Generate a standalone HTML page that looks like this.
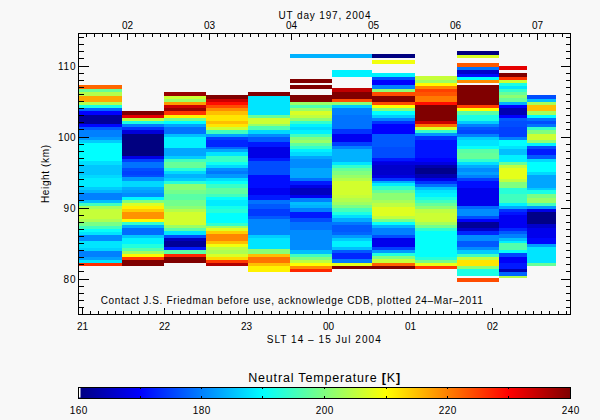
<!DOCTYPE html><html><head><meta charset="utf-8"><title>plot</title>
<style>html,body{margin:0;padding:0;background:#f8f8f8;}svg{display:block;font-family:"Liberation Sans",sans-serif;}</style></head><body>
<svg width="600" height="420" viewBox="0 0 600 420">
<rect x="0" y="0" width="600" height="420" fill="#f8f8f8"/>
<g shape-rendering="crispEdges">
<rect x="78.5" y="84.9" width="43.7" height="3.9" fill="#ff6600"/>
<rect x="78.5" y="88.8" width="43.7" height="3.3" fill="#66ff99"/>
<rect x="78.5" y="92.1" width="43.7" height="3.7" fill="#b3ff4c"/>
<rect x="78.5" y="95.8" width="43.7" height="6.0" fill="#ffa600"/>
<rect x="78.5" y="101.8" width="43.7" height="2.9" fill="#b3ff4c"/>
<rect x="78.5" y="104.7" width="43.7" height="3.2" fill="#1affe5"/>
<rect x="78.5" y="107.9" width="43.7" height="3.0" fill="#0066ff"/>
<rect x="78.5" y="110.9" width="43.7" height="3.9" fill="#0000ff"/>
<rect x="78.5" y="114.8" width="43.7" height="9.0" fill="#000099"/>
<rect x="78.5" y="123.8" width="43.7" height="3.4" fill="#0006ff"/>
<rect x="78.5" y="127.2" width="43.7" height="2.8" fill="#0059ff"/>
<rect x="78.5" y="130.0" width="43.7" height="6.7" fill="#0080ff"/>
<rect x="78.5" y="136.7" width="43.7" height="3.0" fill="#0099ff"/>
<rect x="78.5" y="139.7" width="43.7" height="3.0" fill="#00ccff"/>
<rect x="78.5" y="142.7" width="43.7" height="18.6" fill="#00ffff"/>
<rect x="78.5" y="161.3" width="43.7" height="3.4" fill="#00dfff"/>
<rect x="78.5" y="164.7" width="43.7" height="10.0" fill="#00c6ff"/>
<rect x="78.5" y="174.7" width="43.7" height="3.3" fill="#00d9ff"/>
<rect x="78.5" y="178.0" width="43.7" height="8.7" fill="#00ecff"/>
<rect x="78.5" y="186.7" width="43.7" height="3.0" fill="#00ccff"/>
<rect x="78.5" y="189.7" width="43.7" height="3.6" fill="#00b2ff"/>
<rect x="78.5" y="193.3" width="43.7" height="6.4" fill="#0080ff"/>
<rect x="78.5" y="199.7" width="43.7" height="3.1" fill="#00bfff"/>
<rect x="78.5" y="202.8" width="43.7" height="3.0" fill="#40ffbf"/>
<rect x="78.5" y="205.8" width="43.7" height="3.4" fill="#a6ff59"/>
<rect x="78.5" y="209.2" width="43.7" height="10.0" fill="#c6ff39"/>
<rect x="78.5" y="219.2" width="43.7" height="3.1" fill="#acff53"/>
<rect x="78.5" y="222.3" width="43.7" height="3.2" fill="#79ff86"/>
<rect x="78.5" y="225.5" width="43.7" height="3.2" fill="#40ffbf"/>
<rect x="78.5" y="228.7" width="43.7" height="3.3" fill="#06fff9"/>
<rect x="78.5" y="232.0" width="43.7" height="3.0" fill="#00e5ff"/>
<rect x="78.5" y="235.0" width="43.7" height="5.8" fill="#008cff"/>
<rect x="78.5" y="240.8" width="43.7" height="6.7" fill="#00e5ff"/>
<rect x="78.5" y="247.5" width="43.7" height="3.0" fill="#00d2ff"/>
<rect x="78.5" y="250.5" width="43.7" height="6.5" fill="#0080ff"/>
<rect x="78.5" y="257.0" width="43.7" height="3.0" fill="#009fff"/>
<rect x="78.5" y="260.0" width="43.7" height="3.0" fill="#00e5ff"/>
<rect x="78.5" y="263.0" width="43.7" height="2.8" fill="#ff2d00"/>
<rect x="122.2" y="110.9" width="41.8" height="3.9" fill="#800000"/>
<rect x="122.2" y="114.8" width="41.8" height="2.9" fill="#e50000"/>
<rect x="122.2" y="117.7" width="41.8" height="3.0" fill="#bfff40"/>
<rect x="122.2" y="120.7" width="41.8" height="3.2" fill="#1affe5"/>
<rect x="122.2" y="123.9" width="41.8" height="3.3" fill="#0080ff"/>
<rect x="122.2" y="127.2" width="41.8" height="2.8" fill="#0033ff"/>
<rect x="122.2" y="130.0" width="41.8" height="3.9" fill="#0000d9"/>
<rect x="122.2" y="133.9" width="41.8" height="21.9" fill="#000080"/>
<rect x="122.2" y="155.8" width="41.8" height="2.9" fill="#0000e6"/>
<rect x="122.2" y="158.7" width="41.8" height="3.3" fill="#0040ff"/>
<rect x="122.2" y="162.0" width="41.8" height="5.8" fill="#0073ff"/>
<rect x="122.2" y="167.8" width="41.8" height="3.2" fill="#004dff"/>
<rect x="122.2" y="171.0" width="41.8" height="3.5" fill="#0040ff"/>
<rect x="122.2" y="174.5" width="41.8" height="2.5" fill="#004dff"/>
<rect x="122.2" y="177.0" width="41.8" height="4.3" fill="#0099ff"/>
<rect x="122.2" y="181.3" width="41.8" height="5.4" fill="#00d9ff"/>
<rect x="122.2" y="186.7" width="41.8" height="3.3" fill="#00acff"/>
<rect x="122.2" y="190.0" width="41.8" height="3.3" fill="#009fff"/>
<rect x="122.2" y="193.3" width="41.8" height="3.4" fill="#008cff"/>
<rect x="122.2" y="196.7" width="41.8" height="3.3" fill="#00f9ff"/>
<rect x="122.2" y="200.0" width="41.8" height="2.8" fill="#80ff80"/>
<rect x="122.2" y="202.8" width="41.8" height="3.0" fill="#d9ff26"/>
<rect x="122.2" y="205.8" width="41.8" height="3.4" fill="#fff200"/>
<rect x="122.2" y="209.2" width="41.8" height="2.8" fill="#ffcc00"/>
<rect x="122.2" y="212.0" width="41.8" height="6.7" fill="#ff9300"/>
<rect x="122.2" y="218.7" width="41.8" height="3.0" fill="#fff900"/>
<rect x="122.2" y="221.7" width="41.8" height="3.3" fill="#33ffcc"/>
<rect x="122.2" y="225.0" width="41.8" height="3.0" fill="#00acff"/>
<rect x="122.2" y="228.0" width="41.8" height="7.0" fill="#006cff"/>
<rect x="122.2" y="235.0" width="41.8" height="3.0" fill="#00c6ff"/>
<rect x="122.2" y="238.0" width="41.8" height="6.2" fill="#00f2ff"/>
<rect x="122.2" y="244.2" width="41.8" height="3.3" fill="#20ffdf"/>
<rect x="122.2" y="247.5" width="41.8" height="3.0" fill="#53ffac"/>
<rect x="122.2" y="250.5" width="41.8" height="3.7" fill="#9fff60"/>
<rect x="122.2" y="254.2" width="41.8" height="2.8" fill="#fff900"/>
<rect x="122.2" y="257.0" width="41.8" height="3.0" fill="#ff3900"/>
<rect x="122.2" y="260.0" width="41.8" height="5.8" fill="#800000"/>
<rect x="164.0" y="92.1" width="42.3" height="3.7" fill="#990000"/>
<rect x="164.0" y="95.8" width="42.3" height="3.2" fill="#ccff33"/>
<rect x="164.0" y="99.0" width="42.3" height="2.8" fill="#99ff66"/>
<rect x="164.0" y="101.8" width="42.3" height="3.2" fill="#ff9900"/>
<rect x="164.0" y="105.0" width="42.3" height="3.0" fill="#cc0000"/>
<rect x="164.0" y="108.0" width="42.3" height="2.9" fill="#990000"/>
<rect x="164.0" y="110.9" width="42.3" height="3.9" fill="#ff3300"/>
<rect x="164.0" y="114.8" width="42.3" height="3.2" fill="#fff200"/>
<rect x="164.0" y="118.0" width="42.3" height="2.9" fill="#73ff8c"/>
<rect x="164.0" y="120.9" width="42.3" height="3.0" fill="#00ffff"/>
<rect x="164.0" y="123.9" width="42.3" height="3.5" fill="#00a6ff"/>
<rect x="164.0" y="127.4" width="42.3" height="6.5" fill="#0073ff"/>
<rect x="164.0" y="133.9" width="42.3" height="3.1" fill="#00bfff"/>
<rect x="164.0" y="137.0" width="42.3" height="11.4" fill="#00f2ff"/>
<rect x="164.0" y="148.4" width="42.3" height="7.1" fill="#00a6ff"/>
<rect x="164.0" y="155.5" width="42.3" height="3.2" fill="#00ccff"/>
<rect x="164.0" y="158.7" width="42.3" height="3.3" fill="#40ffbf"/>
<rect x="164.0" y="162.0" width="42.3" height="5.5" fill="#66ff99"/>
<rect x="164.0" y="167.5" width="42.3" height="3.3" fill="#26ffd9"/>
<rect x="164.0" y="170.8" width="42.3" height="3.4" fill="#00d9ff"/>
<rect x="164.0" y="174.2" width="42.3" height="3.3" fill="#00b2ff"/>
<rect x="164.0" y="177.5" width="42.3" height="3.3" fill="#00ccff"/>
<rect x="164.0" y="180.8" width="42.3" height="3.4" fill="#26ffd9"/>
<rect x="164.0" y="184.2" width="42.3" height="5.8" fill="#8cff73"/>
<rect x="164.0" y="190.0" width="42.3" height="3.7" fill="#73ff8c"/>
<rect x="164.0" y="193.7" width="42.3" height="6.3" fill="#59ffa6"/>
<rect x="164.0" y="200.0" width="42.3" height="5.8" fill="#73ff8c"/>
<rect x="164.0" y="205.8" width="42.3" height="3.4" fill="#8cff73"/>
<rect x="164.0" y="209.2" width="42.3" height="2.8" fill="#b3ff4c"/>
<rect x="164.0" y="212.0" width="42.3" height="13.0" fill="#d2ff2d"/>
<rect x="164.0" y="225.0" width="42.3" height="3.0" fill="#99ff66"/>
<rect x="164.0" y="228.0" width="42.3" height="2.8" fill="#59ffa6"/>
<rect x="164.0" y="230.8" width="42.3" height="4.2" fill="#00e5ff"/>
<rect x="164.0" y="235.0" width="42.3" height="2.8" fill="#004dff"/>
<rect x="164.0" y="237.8" width="42.3" height="2.7" fill="#0000bf"/>
<rect x="164.0" y="240.5" width="42.3" height="6.2" fill="#000099"/>
<rect x="164.0" y="246.7" width="42.3" height="3.3" fill="#0019ff"/>
<rect x="164.0" y="250.0" width="42.3" height="3.7" fill="#59ffa6"/>
<rect x="164.0" y="253.7" width="42.3" height="3.3" fill="#ff2600"/>
<rect x="164.0" y="257.0" width="42.3" height="5.5" fill="#800000"/>
<rect x="206.3" y="95.2" width="42.1" height="3.7" fill="#800000"/>
<rect x="206.3" y="98.9" width="42.1" height="3.3" fill="#cc0000"/>
<rect x="206.3" y="102.2" width="42.1" height="2.6" fill="#ff0d00"/>
<rect x="206.3" y="104.8" width="42.1" height="3.2" fill="#ff4c00"/>
<rect x="206.3" y="108.0" width="42.1" height="3.3" fill="#ff8c00"/>
<rect x="206.3" y="111.3" width="42.1" height="3.4" fill="#ffbf00"/>
<rect x="206.3" y="114.7" width="42.1" height="5.9" fill="#ffe500"/>
<rect x="206.3" y="120.6" width="42.1" height="3.7" fill="#ffbf00"/>
<rect x="206.3" y="124.3" width="42.1" height="2.8" fill="#ffe500"/>
<rect x="206.3" y="127.1" width="42.1" height="2.8" fill="#ccff33"/>
<rect x="206.3" y="129.9" width="42.1" height="3.7" fill="#40ffbf"/>
<rect x="206.3" y="133.6" width="42.1" height="3.2" fill="#00a6ff"/>
<rect x="206.3" y="136.8" width="42.1" height="3.4" fill="#0040ff"/>
<rect x="206.3" y="140.2" width="42.1" height="6.5" fill="#0026ff"/>
<rect x="206.3" y="146.7" width="42.1" height="2.6" fill="#0066ff"/>
<rect x="206.3" y="149.3" width="42.1" height="2.4" fill="#00a6ff"/>
<rect x="206.3" y="151.7" width="42.1" height="4.1" fill="#00e5ff"/>
<rect x="206.3" y="155.8" width="42.1" height="6.2" fill="#39ffc6"/>
<rect x="206.3" y="162.0" width="42.1" height="3.0" fill="#0dfff2"/>
<rect x="206.3" y="165.0" width="42.1" height="3.0" fill="#00d9ff"/>
<rect x="206.3" y="168.0" width="42.1" height="2.8" fill="#008cff"/>
<rect x="206.3" y="170.8" width="42.1" height="3.4" fill="#0079ff"/>
<rect x="206.3" y="174.2" width="42.1" height="3.3" fill="#0099ff"/>
<rect x="206.3" y="177.5" width="42.1" height="3.3" fill="#00dfff"/>
<rect x="206.3" y="180.8" width="42.1" height="3.4" fill="#06fff9"/>
<rect x="206.3" y="184.2" width="42.1" height="3.3" fill="#39ffc6"/>
<rect x="206.3" y="187.5" width="42.1" height="6.2" fill="#60ff9f"/>
<rect x="206.3" y="193.7" width="42.1" height="3.3" fill="#40ffbf"/>
<rect x="206.3" y="197.0" width="42.1" height="3.0" fill="#06fff9"/>
<rect x="206.3" y="200.0" width="42.1" height="5.8" fill="#00ecff"/>
<rect x="206.3" y="205.8" width="42.1" height="3.4" fill="#13ffec"/>
<rect x="206.3" y="209.2" width="42.1" height="4.1" fill="#26ffd9"/>
<rect x="206.3" y="213.3" width="42.1" height="10.0" fill="#00ffff"/>
<rect x="206.3" y="223.3" width="42.1" height="2.5" fill="#33ffcc"/>
<rect x="206.3" y="225.8" width="42.1" height="2.2" fill="#99ff66"/>
<rect x="206.3" y="228.0" width="42.1" height="2.8" fill="#dfff20"/>
<rect x="206.3" y="230.8" width="42.1" height="3.4" fill="#ffcc00"/>
<rect x="206.3" y="234.2" width="42.1" height="6.6" fill="#ff8600"/>
<rect x="206.3" y="240.8" width="42.1" height="3.4" fill="#ffbf00"/>
<rect x="206.3" y="244.2" width="42.1" height="2.8" fill="#f2ff0d"/>
<rect x="206.3" y="247.0" width="42.1" height="3.0" fill="#bfff40"/>
<rect x="206.3" y="250.0" width="42.1" height="3.7" fill="#acff53"/>
<rect x="206.3" y="253.7" width="42.1" height="3.3" fill="#d9ff26"/>
<rect x="206.3" y="257.0" width="42.1" height="3.0" fill="#ffd900"/>
<rect x="206.3" y="260.0" width="42.1" height="3.0" fill="#ff3900"/>
<rect x="206.3" y="263.0" width="42.1" height="2.8" fill="#b30000"/>
<rect x="248.4" y="92.0" width="41.6" height="3.5" fill="#800000"/>
<rect x="248.4" y="95.5" width="41.6" height="19.5" fill="#00e5ff"/>
<rect x="248.4" y="115.0" width="41.6" height="2.8" fill="#66ff99"/>
<rect x="248.4" y="117.8" width="41.6" height="6.0" fill="#ccff33"/>
<rect x="248.4" y="123.8" width="41.6" height="2.6" fill="#99ff66"/>
<rect x="248.4" y="126.4" width="41.6" height="3.5" fill="#4dffb2"/>
<rect x="248.4" y="129.9" width="41.6" height="3.7" fill="#00d9ff"/>
<rect x="248.4" y="133.6" width="41.6" height="3.3" fill="#008cff"/>
<rect x="248.4" y="136.9" width="41.6" height="5.4" fill="#0059ff"/>
<rect x="248.4" y="142.3" width="41.6" height="4.4" fill="#0019ff"/>
<rect x="248.4" y="146.7" width="41.6" height="10.8" fill="#0000e6"/>
<rect x="248.4" y="157.5" width="41.6" height="3.3" fill="#0019ff"/>
<rect x="248.4" y="160.8" width="41.6" height="7.5" fill="#004dff"/>
<rect x="248.4" y="168.3" width="41.6" height="6.5" fill="#004dff"/>
<rect x="248.4" y="174.8" width="41.6" height="13.0" fill="#000dff"/>
<rect x="248.4" y="187.8" width="41.6" height="7.6" fill="#0000f2"/>
<rect x="248.4" y="195.4" width="41.6" height="4.4" fill="#0019ff"/>
<rect x="248.4" y="199.8" width="41.6" height="4.5" fill="#0073ff"/>
<rect x="248.4" y="204.3" width="41.6" height="4.4" fill="#0059ff"/>
<rect x="248.4" y="208.7" width="41.6" height="7.3" fill="#0039ff"/>
<rect x="248.4" y="216.0" width="41.6" height="3.2" fill="#0059ff"/>
<rect x="248.4" y="219.2" width="41.6" height="15.8" fill="#0086ff"/>
<rect x="248.4" y="235.0" width="41.6" height="3.0" fill="#00ccff"/>
<rect x="248.4" y="238.0" width="41.6" height="11.3" fill="#00e5ff"/>
<rect x="248.4" y="249.3" width="41.6" height="4.4" fill="#8cff73"/>
<rect x="248.4" y="253.7" width="41.6" height="3.3" fill="#ffbf00"/>
<rect x="248.4" y="257.0" width="41.6" height="6.0" fill="#ff7300"/>
<rect x="248.4" y="263.0" width="41.6" height="2.8" fill="#ffbf00"/>
<rect x="248.4" y="265.8" width="41.6" height="6.1" fill="#fff200"/>
<rect x="290.0" y="53.8" width="42.3" height="4.0" fill="#00b2ff"/>
<rect x="290.0" y="79.0" width="42.3" height="3.8" fill="#800000"/>
<rect x="290.0" y="85.0" width="42.3" height="3.8" fill="#800000"/>
<rect x="290.0" y="94.8" width="42.3" height="7.2" fill="#800000"/>
<rect x="290.0" y="102.0" width="42.3" height="3.0" fill="#99ff66"/>
<rect x="290.0" y="105.0" width="42.3" height="2.8" fill="#4dffb2"/>
<rect x="290.0" y="107.8" width="42.3" height="3.2" fill="#99ff66"/>
<rect x="290.0" y="111.0" width="42.3" height="4.0" fill="#d9ff26"/>
<rect x="290.0" y="115.0" width="42.3" height="3.0" fill="#bfff40"/>
<rect x="290.0" y="118.0" width="42.3" height="3.2" fill="#8cff73"/>
<rect x="290.0" y="121.2" width="42.3" height="2.8" fill="#33ffcc"/>
<rect x="290.0" y="124.0" width="42.3" height="3.0" fill="#00f2ff"/>
<rect x="290.0" y="127.0" width="42.3" height="3.0" fill="#00d9ff"/>
<rect x="290.0" y="130.0" width="42.3" height="3.5" fill="#00f2ff"/>
<rect x="290.0" y="133.5" width="42.3" height="3.5" fill="#40ffbf"/>
<rect x="290.0" y="137.0" width="42.3" height="3.0" fill="#80ff80"/>
<rect x="290.0" y="140.0" width="42.3" height="3.2" fill="#99ff66"/>
<rect x="290.0" y="143.2" width="42.3" height="3.0" fill="#60ff9f"/>
<rect x="290.0" y="146.2" width="42.3" height="2.8" fill="#33ffcc"/>
<rect x="290.0" y="149.0" width="42.3" height="3.2" fill="#00f2ff"/>
<rect x="290.0" y="152.2" width="42.3" height="3.8" fill="#00d9ff"/>
<rect x="290.0" y="156.0" width="42.3" height="3.0" fill="#00a6ff"/>
<rect x="290.0" y="159.0" width="42.3" height="9.3" fill="#008cff"/>
<rect x="290.0" y="168.3" width="42.3" height="9.8" fill="#00a6ff"/>
<rect x="290.0" y="178.1" width="42.3" height="3.2" fill="#0073ff"/>
<rect x="290.0" y="181.3" width="42.3" height="3.3" fill="#0019ff"/>
<rect x="290.0" y="184.6" width="42.3" height="3.2" fill="#0000e6"/>
<rect x="290.0" y="187.8" width="42.3" height="7.0" fill="#0000bf"/>
<rect x="290.0" y="194.8" width="42.3" height="3.2" fill="#0000f2"/>
<rect x="290.0" y="198.0" width="42.3" height="3.7" fill="#0080ff"/>
<rect x="290.0" y="201.7" width="42.3" height="3.3" fill="#00bfff"/>
<rect x="290.0" y="205.0" width="42.3" height="3.3" fill="#00b2ff"/>
<rect x="290.0" y="208.3" width="42.3" height="3.5" fill="#0080ff"/>
<rect x="290.0" y="211.8" width="42.3" height="6.6" fill="#0019ff"/>
<rect x="290.0" y="218.4" width="42.3" height="3.3" fill="#004dff"/>
<rect x="290.0" y="221.7" width="42.3" height="8.6" fill="#0073ff"/>
<rect x="290.0" y="230.3" width="42.3" height="19.5" fill="#008cff"/>
<rect x="290.0" y="249.8" width="42.3" height="3.9" fill="#00bfff"/>
<rect x="290.0" y="253.7" width="42.3" height="3.7" fill="#40ffbf"/>
<rect x="290.0" y="257.4" width="42.3" height="2.8" fill="#80ff80"/>
<rect x="290.0" y="260.2" width="42.3" height="2.6" fill="#bfff40"/>
<rect x="290.0" y="262.8" width="42.3" height="2.9" fill="#ffff00"/>
<rect x="290.0" y="265.7" width="42.3" height="3.2" fill="#ff8c00"/>
<rect x="290.0" y="268.9" width="42.3" height="3.0" fill="#ff2600"/>
<rect x="332.3" y="53.8" width="39.5" height="4.0" fill="#00b2ff"/>
<rect x="332.3" y="70.0" width="39.5" height="6.8" fill="#00f2ff"/>
<rect x="332.3" y="88.0" width="39.5" height="4.0" fill="#bf0000"/>
<rect x="332.3" y="92.0" width="39.5" height="6.9" fill="#800000"/>
<rect x="332.3" y="98.9" width="39.5" height="3.1" fill="#ff4c00"/>
<rect x="332.3" y="102.0" width="39.5" height="2.8" fill="#8cff73"/>
<rect x="332.3" y="104.8" width="39.5" height="3.2" fill="#00ccff"/>
<rect x="332.3" y="108.0" width="39.5" height="7.0" fill="#0080ff"/>
<rect x="332.3" y="115.0" width="39.5" height="14.3" fill="#0073ff"/>
<rect x="332.3" y="129.3" width="39.5" height="4.4" fill="#0033ff"/>
<rect x="332.3" y="133.7" width="39.5" height="8.6" fill="#0000f2"/>
<rect x="332.3" y="142.3" width="39.5" height="3.3" fill="#0040ff"/>
<rect x="332.3" y="145.6" width="39.5" height="3.2" fill="#0080ff"/>
<rect x="332.3" y="148.8" width="39.5" height="13.2" fill="#00b2ff"/>
<rect x="332.3" y="162.0" width="39.5" height="3.0" fill="#00e5ff"/>
<rect x="332.3" y="165.0" width="39.5" height="3.0" fill="#33ffcc"/>
<rect x="332.3" y="168.0" width="39.5" height="3.3" fill="#66ff99"/>
<rect x="332.3" y="171.3" width="39.5" height="3.4" fill="#80ff80"/>
<rect x="332.3" y="174.7" width="39.5" height="3.3" fill="#99ff66"/>
<rect x="332.3" y="178.0" width="39.5" height="3.3" fill="#b3ff4c"/>
<rect x="332.3" y="181.3" width="39.5" height="13.7" fill="#d2ff2d"/>
<rect x="332.3" y="195.0" width="39.5" height="3.3" fill="#c6ff39"/>
<rect x="332.3" y="198.3" width="39.5" height="3.4" fill="#b3ff4c"/>
<rect x="332.3" y="201.7" width="39.5" height="3.3" fill="#9fff60"/>
<rect x="332.3" y="205.0" width="39.5" height="3.3" fill="#79ff86"/>
<rect x="332.3" y="208.3" width="39.5" height="3.4" fill="#46ffb9"/>
<rect x="332.3" y="211.7" width="39.5" height="3.6" fill="#1affe5"/>
<rect x="332.3" y="215.3" width="39.5" height="3.0" fill="#00dfff"/>
<rect x="332.3" y="218.3" width="39.5" height="3.4" fill="#00acff"/>
<rect x="332.3" y="221.7" width="39.5" height="3.3" fill="#0079ff"/>
<rect x="332.3" y="225.0" width="39.5" height="6.7" fill="#0059ff"/>
<rect x="332.3" y="231.7" width="39.5" height="3.3" fill="#0066ff"/>
<rect x="332.3" y="235.0" width="39.5" height="2.8" fill="#0099ff"/>
<rect x="332.3" y="237.8" width="39.5" height="3.0" fill="#00ccff"/>
<rect x="332.3" y="240.8" width="39.5" height="5.9" fill="#00f2ff"/>
<rect x="332.3" y="246.7" width="39.5" height="3.0" fill="#00bfff"/>
<rect x="332.3" y="249.7" width="39.5" height="3.3" fill="#0059ff"/>
<rect x="332.3" y="253.0" width="39.5" height="6.2" fill="#0026ff"/>
<rect x="332.3" y="259.2" width="39.5" height="3.3" fill="#0079ff"/>
<rect x="332.3" y="262.5" width="39.5" height="3.3" fill="#e5ff1a"/>
<rect x="332.3" y="265.8" width="39.5" height="3.2" fill="#800000"/>
<rect x="371.8" y="53.8" width="43.2" height="4.0" fill="#000080"/>
<rect x="371.8" y="60.1" width="43.2" height="3.8" fill="#f2ff0d"/>
<rect x="371.8" y="73.0" width="43.2" height="3.8" fill="#00f2ff"/>
<rect x="371.8" y="76.8" width="43.2" height="3.2" fill="#004dff"/>
<rect x="371.8" y="80.0" width="43.2" height="5.4" fill="#0000ff"/>
<rect x="371.8" y="85.4" width="43.2" height="3.2" fill="#0080ff"/>
<rect x="371.8" y="88.6" width="43.2" height="3.4" fill="#8cff73"/>
<rect x="371.8" y="92.0" width="43.2" height="3.8" fill="#ff4c00"/>
<rect x="371.8" y="95.8" width="43.2" height="6.2" fill="#800000"/>
<rect x="371.8" y="102.0" width="43.2" height="2.8" fill="#ff4c00"/>
<rect x="371.8" y="104.8" width="43.2" height="3.2" fill="#ffff00"/>
<rect x="371.8" y="108.0" width="43.2" height="2.9" fill="#80ff80"/>
<rect x="371.8" y="110.9" width="43.2" height="3.6" fill="#00ffff"/>
<rect x="371.8" y="114.5" width="43.2" height="3.3" fill="#00ccff"/>
<rect x="371.8" y="117.8" width="43.2" height="3.2" fill="#0080ff"/>
<rect x="371.8" y="121.0" width="43.2" height="3.3" fill="#0033ff"/>
<rect x="371.8" y="124.3" width="43.2" height="9.4" fill="#0000ff"/>
<rect x="371.8" y="133.7" width="43.2" height="13.0" fill="#0059ff"/>
<rect x="371.8" y="146.7" width="43.2" height="10.8" fill="#004dff"/>
<rect x="371.8" y="157.5" width="43.2" height="3.3" fill="#0019ff"/>
<rect x="371.8" y="160.8" width="43.2" height="1.2" fill="#0000f2"/>
<rect x="371.8" y="162.0" width="43.2" height="3.0" fill="#0000df"/>
<rect x="371.8" y="165.0" width="43.2" height="9.7" fill="#0000cc"/>
<rect x="371.8" y="174.7" width="43.2" height="2.8" fill="#0000df"/>
<rect x="371.8" y="177.5" width="43.2" height="3.3" fill="#0033ff"/>
<rect x="371.8" y="180.8" width="43.2" height="2.5" fill="#00acff"/>
<rect x="371.8" y="183.3" width="43.2" height="3.0" fill="#00ecff"/>
<rect x="371.8" y="186.3" width="43.2" height="3.4" fill="#33ffcc"/>
<rect x="371.8" y="189.7" width="43.2" height="3.3" fill="#66ff99"/>
<rect x="371.8" y="193.0" width="43.2" height="7.0" fill="#8cff73"/>
<rect x="371.8" y="200.0" width="43.2" height="3.3" fill="#a6ff59"/>
<rect x="371.8" y="203.3" width="43.2" height="3.4" fill="#bfff40"/>
<rect x="371.8" y="206.7" width="43.2" height="9.1" fill="#dfff20"/>
<rect x="371.8" y="215.8" width="43.2" height="2.9" fill="#bfff40"/>
<rect x="371.8" y="218.7" width="43.2" height="3.0" fill="#79ff86"/>
<rect x="371.8" y="221.7" width="43.2" height="3.3" fill="#06fff9"/>
<rect x="371.8" y="225.0" width="43.2" height="3.0" fill="#00b2ff"/>
<rect x="371.8" y="228.0" width="43.2" height="6.7" fill="#0080ff"/>
<rect x="371.8" y="234.7" width="43.2" height="3.1" fill="#004dff"/>
<rect x="371.8" y="237.8" width="43.2" height="8.9" fill="#0000ec"/>
<rect x="371.8" y="246.7" width="43.2" height="3.0" fill="#0040ff"/>
<rect x="371.8" y="249.7" width="43.2" height="3.3" fill="#0099ff"/>
<rect x="371.8" y="253.0" width="43.2" height="2.8" fill="#20ffdf"/>
<rect x="371.8" y="255.8" width="43.2" height="3.4" fill="#80ff80"/>
<rect x="371.8" y="259.2" width="43.2" height="3.3" fill="#c6ff39"/>
<rect x="371.8" y="262.5" width="43.2" height="3.3" fill="#ff6000"/>
<rect x="371.8" y="265.8" width="43.2" height="3.2" fill="#800000"/>
<rect x="415.0" y="76.0" width="41.9" height="3.7" fill="#c6ff39"/>
<rect x="415.0" y="79.7" width="41.9" height="3.0" fill="#99ff66"/>
<rect x="415.0" y="82.7" width="41.9" height="3.3" fill="#fff900"/>
<rect x="415.0" y="86.0" width="41.9" height="2.8" fill="#ff8600"/>
<rect x="415.0" y="88.8" width="41.9" height="3.4" fill="#ff4000"/>
<rect x="415.0" y="92.2" width="41.9" height="3.3" fill="#ff5300"/>
<rect x="415.0" y="95.5" width="41.9" height="6.2" fill="#ff7900"/>
<rect x="415.0" y="101.7" width="41.9" height="3.3" fill="#ff0d00"/>
<rect x="415.0" y="105.0" width="41.9" height="15.8" fill="#800000"/>
<rect x="415.0" y="120.8" width="41.9" height="2.9" fill="#cc0000"/>
<rect x="415.0" y="123.7" width="41.9" height="3.0" fill="#ff6c00"/>
<rect x="415.0" y="126.7" width="41.9" height="3.3" fill="#dfff20"/>
<rect x="415.0" y="130.0" width="41.9" height="3.3" fill="#33ffcc"/>
<rect x="415.0" y="133.3" width="41.9" height="3.0" fill="#0099ff"/>
<rect x="415.0" y="136.3" width="41.9" height="3.4" fill="#0033ff"/>
<rect x="415.0" y="139.7" width="41.9" height="17.8" fill="#0013ff"/>
<rect x="415.0" y="157.5" width="41.9" height="4.2" fill="#0000ff"/>
<rect x="415.0" y="161.7" width="41.9" height="3.3" fill="#0000df"/>
<rect x="415.0" y="165.0" width="41.9" height="3.3" fill="#0000ac"/>
<rect x="415.0" y="168.3" width="41.9" height="5.9" fill="#00008c"/>
<rect x="415.0" y="174.2" width="41.9" height="3.3" fill="#0000b2"/>
<rect x="415.0" y="177.5" width="41.9" height="3.3" fill="#0000ec"/>
<rect x="415.0" y="180.8" width="41.9" height="2.9" fill="#0033ff"/>
<rect x="415.0" y="183.7" width="41.9" height="3.3" fill="#0073ff"/>
<rect x="415.0" y="187.0" width="41.9" height="3.0" fill="#00bfff"/>
<rect x="415.0" y="190.0" width="41.9" height="3.3" fill="#00e5ff"/>
<rect x="415.0" y="193.3" width="41.9" height="3.4" fill="#00f2ff"/>
<rect x="415.0" y="196.7" width="41.9" height="3.0" fill="#1affe5"/>
<rect x="415.0" y="199.7" width="41.9" height="3.3" fill="#40ffbf"/>
<rect x="415.0" y="203.0" width="41.9" height="3.3" fill="#66ff99"/>
<rect x="415.0" y="206.3" width="41.9" height="2.9" fill="#8cff73"/>
<rect x="415.0" y="209.2" width="41.9" height="3.3" fill="#bfff40"/>
<rect x="415.0" y="212.5" width="41.9" height="9.2" fill="#ccff33"/>
<rect x="415.0" y="221.7" width="41.9" height="3.3" fill="#a6ff59"/>
<rect x="415.0" y="225.0" width="41.9" height="3.0" fill="#73ff8c"/>
<rect x="415.0" y="228.0" width="41.9" height="2.8" fill="#2dffd2"/>
<rect x="415.0" y="230.8" width="41.9" height="25.9" fill="#04fffb"/>
<rect x="415.0" y="256.7" width="41.9" height="3.3" fill="#26ffd9"/>
<rect x="415.0" y="260.0" width="41.9" height="3.0" fill="#79ff86"/>
<rect x="415.0" y="263.0" width="41.9" height="2.8" fill="#ecff13"/>
<rect x="415.0" y="265.8" width="41.9" height="3.0" fill="#ff3900"/>
<rect x="456.9" y="51.0" width="42.3" height="3.8" fill="#000080"/>
<rect x="456.9" y="54.8" width="42.3" height="2.8" fill="#d9ff26"/>
<rect x="456.9" y="63.0" width="42.3" height="3.7" fill="#ff5900"/>
<rect x="456.9" y="66.7" width="42.3" height="3.2" fill="#0073ff"/>
<rect x="456.9" y="69.9" width="42.3" height="3.9" fill="#0000cc"/>
<rect x="456.9" y="73.8" width="42.3" height="3.1" fill="#000dff"/>
<rect x="456.9" y="76.9" width="42.3" height="3.2" fill="#00ffff"/>
<rect x="456.9" y="80.1" width="42.3" height="2.8" fill="#ff8c00"/>
<rect x="456.9" y="85.1" width="42.3" height="19.6" fill="#800000"/>
<rect x="456.9" y="104.7" width="42.3" height="3.1" fill="#ff4000"/>
<rect x="456.9" y="107.8" width="42.3" height="3.2" fill="#ffff00"/>
<rect x="456.9" y="111.0" width="42.3" height="3.7" fill="#59ffa6"/>
<rect x="456.9" y="114.7" width="42.3" height="6.0" fill="#1affe5"/>
<rect x="456.9" y="120.7" width="42.3" height="3.3" fill="#00ccff"/>
<rect x="456.9" y="124.0" width="42.3" height="2.7" fill="#0080ff"/>
<rect x="456.9" y="126.7" width="42.3" height="3.3" fill="#0053ff"/>
<rect x="456.9" y="130.0" width="42.3" height="3.7" fill="#0046ff"/>
<rect x="456.9" y="133.7" width="42.3" height="3.3" fill="#0080ff"/>
<rect x="456.9" y="137.0" width="42.3" height="3.0" fill="#00ccff"/>
<rect x="456.9" y="140.0" width="42.3" height="5.8" fill="#00e5ff"/>
<rect x="456.9" y="145.8" width="42.3" height="3.4" fill="#06fff9"/>
<rect x="456.9" y="149.2" width="42.3" height="3.3" fill="#59ffa6"/>
<rect x="456.9" y="152.5" width="42.3" height="6.2" fill="#66ff99"/>
<rect x="456.9" y="158.7" width="42.3" height="3.3" fill="#33ffcc"/>
<rect x="456.9" y="162.0" width="42.3" height="3.0" fill="#00dfff"/>
<rect x="456.9" y="165.0" width="42.3" height="3.3" fill="#00acff"/>
<rect x="456.9" y="168.3" width="42.3" height="3.4" fill="#008cff"/>
<rect x="456.9" y="171.7" width="42.3" height="3.3" fill="#009fff"/>
<rect x="456.9" y="175.0" width="42.3" height="3.0" fill="#0080ff"/>
<rect x="456.9" y="178.0" width="42.3" height="2.8" fill="#0040ff"/>
<rect x="456.9" y="180.8" width="42.3" height="6.7" fill="#000dff"/>
<rect x="456.9" y="187.5" width="42.3" height="18.3" fill="#0000ec"/>
<rect x="456.9" y="205.8" width="42.3" height="3.4" fill="#0066ff"/>
<rect x="456.9" y="209.2" width="42.3" height="6.5" fill="#008cff"/>
<rect x="456.9" y="215.7" width="42.3" height="2.8" fill="#004dff"/>
<rect x="456.9" y="218.5" width="42.3" height="3.2" fill="#0000ff"/>
<rect x="456.9" y="221.7" width="42.3" height="6.4" fill="#000099"/>
<rect x="456.9" y="228.1" width="42.3" height="2.8" fill="#0000cc"/>
<rect x="456.9" y="230.9" width="42.3" height="3.6" fill="#0026ff"/>
<rect x="456.9" y="234.5" width="42.3" height="6.7" fill="#008cff"/>
<rect x="456.9" y="241.2" width="42.3" height="6.0" fill="#0059ff"/>
<rect x="456.9" y="247.2" width="42.3" height="3.1" fill="#008cff"/>
<rect x="456.9" y="250.3" width="42.3" height="3.4" fill="#00ccff"/>
<rect x="456.9" y="253.7" width="42.3" height="3.1" fill="#40ffbf"/>
<rect x="456.9" y="256.8" width="42.3" height="2.8" fill="#bfff40"/>
<rect x="456.9" y="259.6" width="42.3" height="6.5" fill="#ffe500"/>
<rect x="456.9" y="266.1" width="42.3" height="2.8" fill="#8cff73"/>
<rect x="456.9" y="268.9" width="42.3" height="6.9" fill="#1affe5"/>
<rect x="456.9" y="278.0" width="42.3" height="3.9" fill="#ff4c00"/>
<rect x="499.2" y="66.0" width="28.2" height="3.9" fill="#e50000"/>
<rect x="499.2" y="72.7" width="28.2" height="4.2" fill="#800000"/>
<rect x="499.2" y="76.9" width="28.2" height="2.8" fill="#ff3300"/>
<rect x="499.2" y="79.7" width="28.2" height="3.2" fill="#ccff33"/>
<rect x="499.2" y="82.9" width="28.2" height="3.3" fill="#1affe5"/>
<rect x="499.2" y="86.2" width="28.2" height="3.2" fill="#00e5ff"/>
<rect x="499.2" y="89.4" width="28.2" height="2.6" fill="#33ffcc"/>
<rect x="499.2" y="92.0" width="28.2" height="3.3" fill="#66ff99"/>
<rect x="499.2" y="95.3" width="28.2" height="3.1" fill="#8cff73"/>
<rect x="499.2" y="98.4" width="28.2" height="3.3" fill="#66ff99"/>
<rect x="499.2" y="101.7" width="28.2" height="3.0" fill="#00b2ff"/>
<rect x="499.2" y="104.7" width="28.2" height="3.0" fill="#0000ff"/>
<rect x="499.2" y="107.7" width="28.2" height="7.0" fill="#0000b2"/>
<rect x="499.2" y="114.7" width="28.2" height="3.3" fill="#0000ff"/>
<rect x="499.2" y="118.0" width="28.2" height="2.7" fill="#0059ff"/>
<rect x="499.2" y="120.7" width="28.2" height="6.0" fill="#004dff"/>
<rect x="499.2" y="126.7" width="28.2" height="10.1" fill="#0040ff"/>
<rect x="499.2" y="136.8" width="28.2" height="3.4" fill="#0080ff"/>
<rect x="499.2" y="140.2" width="28.2" height="5.4" fill="#00ffff"/>
<rect x="499.2" y="145.6" width="28.2" height="3.2" fill="#00e5ff"/>
<rect x="499.2" y="148.8" width="28.2" height="6.5" fill="#00bfff"/>
<rect x="499.2" y="155.3" width="28.2" height="6.5" fill="#00f2ff"/>
<rect x="499.2" y="161.8" width="28.2" height="3.3" fill="#66ff99"/>
<rect x="499.2" y="165.1" width="28.2" height="3.2" fill="#bfff40"/>
<rect x="499.2" y="168.3" width="28.2" height="10.9" fill="#e5ff1a"/>
<rect x="499.2" y="179.2" width="28.2" height="3.2" fill="#bfff40"/>
<rect x="499.2" y="182.4" width="28.2" height="5.1" fill="#80ff80"/>
<rect x="499.2" y="187.5" width="28.2" height="6.7" fill="#26ffd9"/>
<rect x="499.2" y="194.2" width="28.2" height="8.3" fill="#40ffbf"/>
<rect x="499.2" y="202.5" width="28.2" height="3.3" fill="#00f2ff"/>
<rect x="499.2" y="205.8" width="28.2" height="2.9" fill="#00acff"/>
<rect x="499.2" y="208.7" width="28.2" height="3.3" fill="#0033ff"/>
<rect x="499.2" y="212.0" width="28.2" height="3.0" fill="#0013ff"/>
<rect x="499.2" y="215.0" width="28.2" height="13.0" fill="#0000f2"/>
<rect x="499.2" y="228.0" width="28.2" height="2.8" fill="#0026ff"/>
<rect x="499.2" y="230.8" width="28.2" height="3.4" fill="#0059ff"/>
<rect x="499.2" y="234.2" width="28.2" height="3.3" fill="#0080ff"/>
<rect x="499.2" y="237.5" width="28.2" height="3.0" fill="#00bfff"/>
<rect x="499.2" y="240.5" width="28.2" height="2.8" fill="#00f2ff"/>
<rect x="499.2" y="243.3" width="28.2" height="6.7" fill="#53ffac"/>
<rect x="499.2" y="250.0" width="28.2" height="3.3" fill="#06fff9"/>
<rect x="499.2" y="253.3" width="28.2" height="3.4" fill="#0046ff"/>
<rect x="499.2" y="256.7" width="28.2" height="6.1" fill="#0000f9"/>
<rect x="499.2" y="262.8" width="28.2" height="6.1" fill="#0019ff"/>
<rect x="499.2" y="268.9" width="28.2" height="3.0" fill="#0000b2"/>
<rect x="499.2" y="271.9" width="28.2" height="3.9" fill="#0066ff"/>
<rect x="499.2" y="275.8" width="28.2" height="2.6" fill="#b3ff4c"/>
<rect x="527.4" y="94.9" width="28.6" height="3.8" fill="#004dff"/>
<rect x="527.4" y="98.7" width="28.6" height="3.0" fill="#00bfff"/>
<rect x="527.4" y="101.7" width="28.6" height="3.0" fill="#a6ff59"/>
<rect x="527.4" y="104.7" width="28.6" height="6.2" fill="#ffbf00"/>
<rect x="527.4" y="110.9" width="28.6" height="3.8" fill="#a6ff59"/>
<rect x="527.4" y="114.7" width="28.6" height="3.3" fill="#00ffff"/>
<rect x="527.4" y="118.0" width="28.6" height="2.7" fill="#0073ff"/>
<rect x="527.4" y="120.7" width="28.6" height="3.3" fill="#004dff"/>
<rect x="527.4" y="124.0" width="28.6" height="2.7" fill="#0073ff"/>
<rect x="527.4" y="126.7" width="28.6" height="3.3" fill="#33ffcc"/>
<rect x="527.4" y="130.0" width="28.6" height="4.0" fill="#80ff80"/>
<rect x="527.4" y="134.0" width="28.6" height="6.2" fill="#ccff33"/>
<rect x="527.4" y="140.2" width="28.6" height="2.6" fill="#8cff73"/>
<rect x="527.4" y="142.8" width="28.6" height="3.2" fill="#00f2ff"/>
<rect x="527.4" y="146.0" width="28.6" height="3.3" fill="#004dff"/>
<rect x="527.4" y="149.3" width="28.6" height="6.0" fill="#0019ff"/>
<rect x="527.4" y="155.3" width="28.6" height="3.3" fill="#0059ff"/>
<rect x="527.4" y="158.6" width="28.6" height="3.2" fill="#00d9ff"/>
<rect x="527.4" y="161.8" width="28.6" height="9.8" fill="#00ffff"/>
<rect x="527.4" y="171.6" width="28.6" height="3.2" fill="#00d9ff"/>
<rect x="527.4" y="174.8" width="28.6" height="12.7" fill="#00a6ff"/>
<rect x="527.4" y="187.5" width="28.6" height="2.5" fill="#00ccff"/>
<rect x="527.4" y="190.0" width="28.6" height="4.2" fill="#1affe5"/>
<rect x="527.4" y="194.2" width="28.6" height="3.3" fill="#79ff86"/>
<rect x="527.4" y="197.5" width="28.6" height="5.0" fill="#99ff66"/>
<rect x="527.4" y="202.5" width="28.6" height="3.3" fill="#40ffbf"/>
<rect x="527.4" y="205.8" width="28.6" height="2.9" fill="#0099ff"/>
<rect x="527.4" y="208.7" width="28.6" height="3.0" fill="#0000e6"/>
<rect x="527.4" y="211.7" width="28.6" height="12.5" fill="#000086"/>
<rect x="527.4" y="224.2" width="28.6" height="3.8" fill="#0000cc"/>
<rect x="527.4" y="228.0" width="28.6" height="9.5" fill="#0000ec"/>
<rect x="527.4" y="237.5" width="28.6" height="6.2" fill="#0006ff"/>
<rect x="527.4" y="243.7" width="28.6" height="3.0" fill="#009fff"/>
<rect x="527.4" y="246.7" width="28.6" height="16.1" fill="#00e5ff"/>
<rect x="527.4" y="262.8" width="28.6" height="2.9" fill="#66ff99"/>
</g>
<g stroke="#000" stroke-width="1" fill="none" shape-rendering="crispEdges">
<rect x="78.5" y="33.5" width="492.0" height="281.0"/>
<path d="M78.5 307.5h5 M570.5 307.5h-5"/>
<path d="M78.5 300.5h5 M570.5 300.5h-5"/>
<path d="M78.5 293.5h5 M570.5 293.5h-5"/>
<path d="M78.5 286.5h5 M570.5 286.5h-5"/>
<path d="M78.5 279.5h10 M570.5 279.5h-10"/>
<path d="M78.5 271.5h5 M570.5 271.5h-5"/>
<path d="M78.5 264.5h5 M570.5 264.5h-5"/>
<path d="M78.5 257.5h5 M570.5 257.5h-5"/>
<path d="M78.5 250.5h5 M570.5 250.5h-5"/>
<path d="M78.5 243.5h5 M570.5 243.5h-5"/>
<path d="M78.5 236.5h5 M570.5 236.5h-5"/>
<path d="M78.5 229.5h5 M570.5 229.5h-5"/>
<path d="M78.5 222.5h5 M570.5 222.5h-5"/>
<path d="M78.5 215.5h5 M570.5 215.5h-5"/>
<path d="M78.5 208.5h10 M570.5 208.5h-10"/>
<path d="M78.5 200.5h5 M570.5 200.5h-5"/>
<path d="M78.5 193.5h5 M570.5 193.5h-5"/>
<path d="M78.5 186.5h5 M570.5 186.5h-5"/>
<path d="M78.5 179.5h5 M570.5 179.5h-5"/>
<path d="M78.5 172.5h5 M570.5 172.5h-5"/>
<path d="M78.5 165.5h5 M570.5 165.5h-5"/>
<path d="M78.5 158.5h5 M570.5 158.5h-5"/>
<path d="M78.5 151.5h5 M570.5 151.5h-5"/>
<path d="M78.5 144.5h5 M570.5 144.5h-5"/>
<path d="M78.5 137.5h10 M570.5 137.5h-10"/>
<path d="M78.5 129.5h5 M570.5 129.5h-5"/>
<path d="M78.5 122.5h5 M570.5 122.5h-5"/>
<path d="M78.5 115.5h5 M570.5 115.5h-5"/>
<path d="M78.5 108.5h5 M570.5 108.5h-5"/>
<path d="M78.5 101.5h5 M570.5 101.5h-5"/>
<path d="M78.5 94.5h5 M570.5 94.5h-5"/>
<path d="M78.5 87.5h5 M570.5 87.5h-5"/>
<path d="M78.5 80.5h5 M570.5 80.5h-5"/>
<path d="M78.5 73.5h5 M570.5 73.5h-5"/>
<path d="M78.5 66.5h10 M570.5 66.5h-10"/>
<path d="M78.5 58.5h5 M570.5 58.5h-5"/>
<path d="M78.5 51.5h5 M570.5 51.5h-5"/>
<path d="M78.5 44.5h5 M570.5 44.5h-5"/>
<path d="M78.5 37.5h5 M570.5 37.5h-5"/>
<path d="M82.5 314.5v-7.0"/>
<path d="M90.5 314.5v-3.5"/>
<path d="M98.5 314.5v-3.5"/>
<path d="M107.5 314.5v-3.5"/>
<path d="M115.5 314.5v-3.5"/>
<path d="M123.5 314.5v-3.5"/>
<path d="M131.5 314.5v-3.5"/>
<path d="M139.5 314.5v-3.5"/>
<path d="M148.5 314.5v-3.5"/>
<path d="M156.5 314.5v-3.5"/>
<path d="M164.5 314.5v-7.0"/>
<path d="M172.5 314.5v-3.5"/>
<path d="M180.5 314.5v-3.5"/>
<path d="M189.5 314.5v-3.5"/>
<path d="M197.5 314.5v-3.5"/>
<path d="M205.5 314.5v-3.5"/>
<path d="M213.5 314.5v-3.5"/>
<path d="M221.5 314.5v-3.5"/>
<path d="M230.5 314.5v-3.5"/>
<path d="M238.5 314.5v-3.5"/>
<path d="M246.5 314.5v-7.0"/>
<path d="M254.5 314.5v-3.5"/>
<path d="M262.5 314.5v-3.5"/>
<path d="M271.5 314.5v-3.5"/>
<path d="M279.5 314.5v-3.5"/>
<path d="M287.5 314.5v-3.5"/>
<path d="M295.5 314.5v-3.5"/>
<path d="M303.5 314.5v-3.5"/>
<path d="M312.5 314.5v-3.5"/>
<path d="M320.5 314.5v-3.5"/>
<path d="M328.5 314.5v-7.0"/>
<path d="M336.5 314.5v-3.5"/>
<path d="M344.5 314.5v-3.5"/>
<path d="M353.5 314.5v-3.5"/>
<path d="M361.5 314.5v-3.5"/>
<path d="M369.5 314.5v-3.5"/>
<path d="M377.5 314.5v-3.5"/>
<path d="M385.5 314.5v-3.5"/>
<path d="M394.5 314.5v-3.5"/>
<path d="M402.5 314.5v-3.5"/>
<path d="M410.5 314.5v-7.0"/>
<path d="M418.5 314.5v-3.5"/>
<path d="M426.5 314.5v-3.5"/>
<path d="M435.5 314.5v-3.5"/>
<path d="M443.5 314.5v-3.5"/>
<path d="M451.5 314.5v-3.5"/>
<path d="M459.5 314.5v-3.5"/>
<path d="M467.5 314.5v-3.5"/>
<path d="M476.5 314.5v-3.5"/>
<path d="M484.5 314.5v-3.5"/>
<path d="M492.5 314.5v-7.0"/>
<path d="M500.5 314.5v-3.5"/>
<path d="M508.5 314.5v-3.5"/>
<path d="M517.5 314.5v-3.5"/>
<path d="M525.5 314.5v-3.5"/>
<path d="M533.5 314.5v-3.5"/>
<path d="M541.5 314.5v-3.5"/>
<path d="M549.5 314.5v-3.5"/>
<path d="M558.5 314.5v-3.5"/>
<path d="M566.5 314.5v-3.5"/>
<path d="M86.5 33.5v3.0"/>
<path d="M94.5 33.5v3.0"/>
<path d="M102.5 33.5v3.0"/>
<path d="M111.5 33.5v3.0"/>
<path d="M119.5 33.5v3.0"/>
<path d="M127.5 33.5v6.0"/>
<path d="M135.5 33.5v3.0"/>
<path d="M143.5 33.5v3.0"/>
<path d="M152.5 33.5v3.0"/>
<path d="M160.5 33.5v3.0"/>
<path d="M168.5 33.5v3.0"/>
<path d="M176.5 33.5v3.0"/>
<path d="M184.5 33.5v3.0"/>
<path d="M193.5 33.5v3.0"/>
<path d="M201.5 33.5v3.0"/>
<path d="M209.5 33.5v6.0"/>
<path d="M217.5 33.5v3.0"/>
<path d="M225.5 33.5v3.0"/>
<path d="M234.5 33.5v3.0"/>
<path d="M242.5 33.5v3.0"/>
<path d="M250.5 33.5v3.0"/>
<path d="M258.5 33.5v3.0"/>
<path d="M266.5 33.5v3.0"/>
<path d="M275.5 33.5v3.0"/>
<path d="M283.5 33.5v3.0"/>
<path d="M291.5 33.5v6.0"/>
<path d="M299.5 33.5v3.0"/>
<path d="M307.5 33.5v3.0"/>
<path d="M316.5 33.5v3.0"/>
<path d="M324.5 33.5v3.0"/>
<path d="M332.5 33.5v3.0"/>
<path d="M340.5 33.5v3.0"/>
<path d="M348.5 33.5v3.0"/>
<path d="M357.5 33.5v3.0"/>
<path d="M365.5 33.5v3.0"/>
<path d="M373.5 33.5v6.0"/>
<path d="M381.5 33.5v3.0"/>
<path d="M389.5 33.5v3.0"/>
<path d="M398.5 33.5v3.0"/>
<path d="M406.5 33.5v3.0"/>
<path d="M414.5 33.5v3.0"/>
<path d="M422.5 33.5v3.0"/>
<path d="M430.5 33.5v3.0"/>
<path d="M439.5 33.5v3.0"/>
<path d="M447.5 33.5v3.0"/>
<path d="M455.5 33.5v6.0"/>
<path d="M463.5 33.5v3.0"/>
<path d="M471.5 33.5v3.0"/>
<path d="M480.5 33.5v3.0"/>
<path d="M488.5 33.5v3.0"/>
<path d="M496.5 33.5v3.0"/>
<path d="M504.5 33.5v3.0"/>
<path d="M512.5 33.5v3.0"/>
<path d="M521.5 33.5v3.0"/>
<path d="M529.5 33.5v3.0"/>
<path d="M537.5 33.5v6.0"/>
<path d="M545.5 33.5v3.0"/>
<path d="M553.5 33.5v3.0"/>
<path d="M562.5 33.5v3.0"/>
<path d="M570.5 33.5v3.0"/>
</g>
<text x="324.5" y="18.5" font-size="10.0" text-anchor="middle" textLength="92.0" lengthAdjust="spacing" fill="#000">UT day 197, 2004</text>
<text x="127.5" y="28.5" font-size="10.0" text-anchor="middle" fill="#000">02</text>
<text x="209.5" y="28.5" font-size="10.0" text-anchor="middle" fill="#000">03</text>
<text x="291.5" y="28.5" font-size="10.0" text-anchor="middle" fill="#000">04</text>
<text x="373.5" y="28.5" font-size="10.0" text-anchor="middle" fill="#000">05</text>
<text x="455.5" y="28.5" font-size="10.0" text-anchor="middle" fill="#000">06</text>
<text x="537.5" y="28.5" font-size="10.0" text-anchor="middle" fill="#000">07</text>
<text x="82.5" y="330.0" font-size="10.0" text-anchor="middle" fill="#000">21</text>
<text x="164.5" y="330.0" font-size="10.0" text-anchor="middle" fill="#000">22</text>
<text x="246.5" y="330.0" font-size="10.0" text-anchor="middle" fill="#000">23</text>
<text x="328.5" y="330.0" font-size="10.0" text-anchor="middle" fill="#000">00</text>
<text x="410.5" y="330.0" font-size="10.0" text-anchor="middle" fill="#000">01</text>
<text x="492.5" y="330.0" font-size="10.0" text-anchor="middle" fill="#000">02</text>
<text x="75.5" y="70.4" font-size="10.0" text-anchor="end" textLength="17.5" lengthAdjust="spacing" fill="#000">110</text>
<text x="75.5" y="141.4" font-size="10.0" text-anchor="end" textLength="17.5" lengthAdjust="spacing" fill="#000">100</text>
<text x="75.5" y="212.4" font-size="10.0" text-anchor="end" textLength="12.0" lengthAdjust="spacing" fill="#000">90</text>
<text x="75.5" y="283.4" font-size="10.0" text-anchor="end" textLength="12.0" lengthAdjust="spacing" fill="#000">80</text>
<text transform="translate(49,174) rotate(-90)" font-size="10" text-anchor="middle" textLength="58" lengthAdjust="spacing">Height (km)</text>
<text x="323.7" y="342.8" font-size="10.0" text-anchor="middle" textLength="114.0" lengthAdjust="spacing" fill="#000">SLT 14 – 15 Jul 2004</text>
<text x="100.7" y="303.9" font-size="10.0" text-anchor="start" textLength="382.0" lengthAdjust="spacing" fill="#000">Contact J.S. Friedman before use, acknowledge CDB, plotted 24–Mar–2011</text>
<text x="324.2" y="381.7" font-size="12.5" text-anchor="middle" textLength="152.0" lengthAdjust="spacing" fill="#000">Neutral Temperature <tspan font-weight="bold">[</tspan>K<tspan font-weight="bold">]</tspan></text>
<defs><linearGradient id="jet" x1="0" x2="1" y1="0" y2="0">
<stop offset="0.0000" stop-color="#000080"/>
<stop offset="0.0156" stop-color="#00008f"/>
<stop offset="0.0312" stop-color="#00009f"/>
<stop offset="0.0469" stop-color="#0000af"/>
<stop offset="0.0625" stop-color="#0000bf"/>
<stop offset="0.0781" stop-color="#0000cf"/>
<stop offset="0.0938" stop-color="#0000df"/>
<stop offset="0.1094" stop-color="#0000ef"/>
<stop offset="0.1250" stop-color="#0000ff"/>
<stop offset="0.1406" stop-color="#0010ff"/>
<stop offset="0.1562" stop-color="#0020ff"/>
<stop offset="0.1719" stop-color="#0030ff"/>
<stop offset="0.1875" stop-color="#0040ff"/>
<stop offset="0.2031" stop-color="#0050ff"/>
<stop offset="0.2188" stop-color="#0060ff"/>
<stop offset="0.2344" stop-color="#0070ff"/>
<stop offset="0.2500" stop-color="#0080ff"/>
<stop offset="0.2656" stop-color="#008fff"/>
<stop offset="0.2812" stop-color="#009fff"/>
<stop offset="0.2969" stop-color="#00afff"/>
<stop offset="0.3125" stop-color="#00bfff"/>
<stop offset="0.3281" stop-color="#00cfff"/>
<stop offset="0.3438" stop-color="#00dfff"/>
<stop offset="0.3594" stop-color="#00efff"/>
<stop offset="0.3750" stop-color="#00ffff"/>
<stop offset="0.3906" stop-color="#10ffef"/>
<stop offset="0.4062" stop-color="#20ffdf"/>
<stop offset="0.4219" stop-color="#30ffcf"/>
<stop offset="0.4375" stop-color="#40ffbf"/>
<stop offset="0.4531" stop-color="#50ffaf"/>
<stop offset="0.4688" stop-color="#60ff9f"/>
<stop offset="0.4844" stop-color="#70ff8f"/>
<stop offset="0.5000" stop-color="#80ff80"/>
<stop offset="0.5156" stop-color="#8fff70"/>
<stop offset="0.5312" stop-color="#9fff60"/>
<stop offset="0.5469" stop-color="#afff50"/>
<stop offset="0.5625" stop-color="#bfff40"/>
<stop offset="0.5781" stop-color="#cfff30"/>
<stop offset="0.5938" stop-color="#dfff20"/>
<stop offset="0.6094" stop-color="#efff10"/>
<stop offset="0.6250" stop-color="#ffff00"/>
<stop offset="0.6406" stop-color="#ffef00"/>
<stop offset="0.6562" stop-color="#ffdf00"/>
<stop offset="0.6719" stop-color="#ffcf00"/>
<stop offset="0.6875" stop-color="#ffbf00"/>
<stop offset="0.7031" stop-color="#ffaf00"/>
<stop offset="0.7188" stop-color="#ff9f00"/>
<stop offset="0.7344" stop-color="#ff8f00"/>
<stop offset="0.7500" stop-color="#ff8000"/>
<stop offset="0.7656" stop-color="#ff7000"/>
<stop offset="0.7812" stop-color="#ff6000"/>
<stop offset="0.7969" stop-color="#ff5000"/>
<stop offset="0.8125" stop-color="#ff4000"/>
<stop offset="0.8281" stop-color="#ff3000"/>
<stop offset="0.8438" stop-color="#ff2000"/>
<stop offset="0.8594" stop-color="#ff1000"/>
<stop offset="0.8750" stop-color="#ff0000"/>
<stop offset="0.8906" stop-color="#ef0000"/>
<stop offset="0.9062" stop-color="#df0000"/>
<stop offset="0.9219" stop-color="#cf0000"/>
<stop offset="0.9375" stop-color="#bf0000"/>
<stop offset="0.9531" stop-color="#af0000"/>
<stop offset="0.9688" stop-color="#9f0000"/>
<stop offset="0.9844" stop-color="#8f0000"/>
<stop offset="1.0000" stop-color="#800000"/>
</linearGradient></defs>
<rect x="78.5" y="387" width="492" height="11" fill="url(#jet)"/>
<rect x="79" y="387.5" width="1.5" height="10" fill="#fff"/>
<g stroke="#000" stroke-width="1" fill="none" shape-rendering="crispEdges">
<rect x="78.5" y="387" width="492" height="11"/>
<path d="M140.5 387v2M140.5 398v-2"/>
<path d="M201.5 387v2M201.5 398v-2"/>
<path d="M262.5 387v2M262.5 398v-2"/>
<path d="M324.5 387v2M324.5 398v-2"/>
<path d="M386.5 387v2M386.5 398v-2"/>
<path d="M447.5 387v2M447.5 398v-2"/>
<path d="M508.5 387v2M508.5 398v-2"/>
</g>
<text x="78.5" y="414.0" font-size="10.0" text-anchor="middle" textLength="17.5" lengthAdjust="spacing" fill="#000">160</text>
<text x="201.5" y="414.0" font-size="10.0" text-anchor="middle" textLength="17.5" lengthAdjust="spacing" fill="#000">180</text>
<text x="324.5" y="414.0" font-size="10.0" text-anchor="middle" textLength="17.5" lengthAdjust="spacing" fill="#000">200</text>
<text x="447.5" y="414.0" font-size="10.0" text-anchor="middle" textLength="17.5" lengthAdjust="spacing" fill="#000">220</text>
<text x="570.5" y="414.0" font-size="10.0" text-anchor="middle" textLength="17.5" lengthAdjust="spacing" fill="#000">240</text>
</svg></body></html>
